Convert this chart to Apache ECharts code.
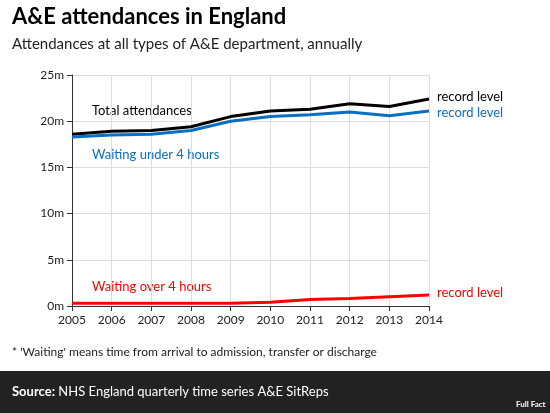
<!DOCTYPE html>
<html><head><meta charset="utf-8">
<script src="https://cdn.jsdelivr.net/npm/echarts@6/dist/echarts.min.js"></script>
<style>body{margin:0;background:#fff}#c{width:550px;height:413px}</style>
</head><body><div id="c"></div>
<script>
const years = ['2005','2006','2007','2008','2009','2010','2011','2012','2013','2014'];
const total = [18.6,18.9,19.0,19.4,20.5,21.1,21.3,21.9,21.6,22.4];
const under4 = [18.3,18.5,18.6,19.0,20.0,20.5,20.7,21.0,20.6,21.1];
const over4 = [0.3,0.3,0.3,0.3,0.3,0.4,0.7,0.8,1.0,1.2];
const yTicks = [0,5,10,15,20,25];
const F = 'Lato, "Noto Sans", sans-serif';
function s(name,data,color,w,dy){
  return {name,type:'line',data,symbol:'none',lineStyle:{color,width:w},
    endLabel:{show:true,formatter:'record level',color,fontSize:13,fontFamily:F,distance:8,offset:[0,dy]}};
}
const chart = echarts.init(document.getElementById('c'));
chart.setOption({
  animation:false,
  grid:{left:72,right:121,top:75,bottom:107},
  xAxis:{type:'category',data:years,boundaryGap:false,
    axisLine:{lineStyle:{color:'#333'}},axisTick:{show:true,lineStyle:{color:'#333'}},
    axisLabel:{color:'#222',fontSize:12,fontFamily:F,interval:0},
    splitLine:{show:true,lineStyle:{color:'#ddd'}}},
  yAxis:{type:'value',min:0,max:25,interval:5,
    axisLine:{show:true,lineStyle:{color:'#333'}},axisTick:{show:true,lineStyle:{color:'#333'}},
    axisLabel:{color:'#222',fontSize:12,fontFamily:F,formatter:v=>yTicks.includes(v)?v+'m':''},
    splitLine:{lineStyle:{color:'#ddd'}}},
  series:[s('Total attendances',total,'#000',3,-2),s('Waiting under 4 hours',under4,'#0a6fc2',3,2),s('Waiting over 4 hours',over4,'#ff0000',3,-2)],
  graphic:[
    {type:'text',left:12,top:6,style:{text:'A&E attendances in England',font:'bold 22px '+F,fill:'#000'}},
    {type:'text',left:12,top:37,style:{text:'Attendances at all types of A&E department, annually',font:'15px '+F,fill:'#222'}},
    {type:'text',left:92,top:104,style:{text:'Total attendances',font:'13px '+F,fill:'#000'}},
    {type:'text',left:92,top:148,style:{text:'Waiting under 4 hours',font:'13px '+F,fill:'#0a6fc2'}},
    {type:'text',left:92,top:280,style:{text:'Waiting over 4 hours',font:'13px '+F,fill:'#ff0000'}},
    {type:'text',left:12,top:346,style:{text:"* 'Waiting' means time from arrival to admission, transfer or discharge",font:'12px '+F,fill:'#222'}},
    {type:'rect',left:0,top:371,shape:{width:550,height:42},style:{fill:'#222'}},
    {type:'text',left:12,top:385,style:{rich:{b:{font:'bold 13px '+F,fill:'#fff'},n:{font:'13px '+F,fill:'#fff'}},text:'{b|Source:} {n|NHS England quarterly time series A&E SitReps}'}},
    {type:'text',left:516,top:400,style:{text:'Full Fact',font:'bold 8px '+F,fill:'#fff'}}
  ]
});
</script></body></html>
